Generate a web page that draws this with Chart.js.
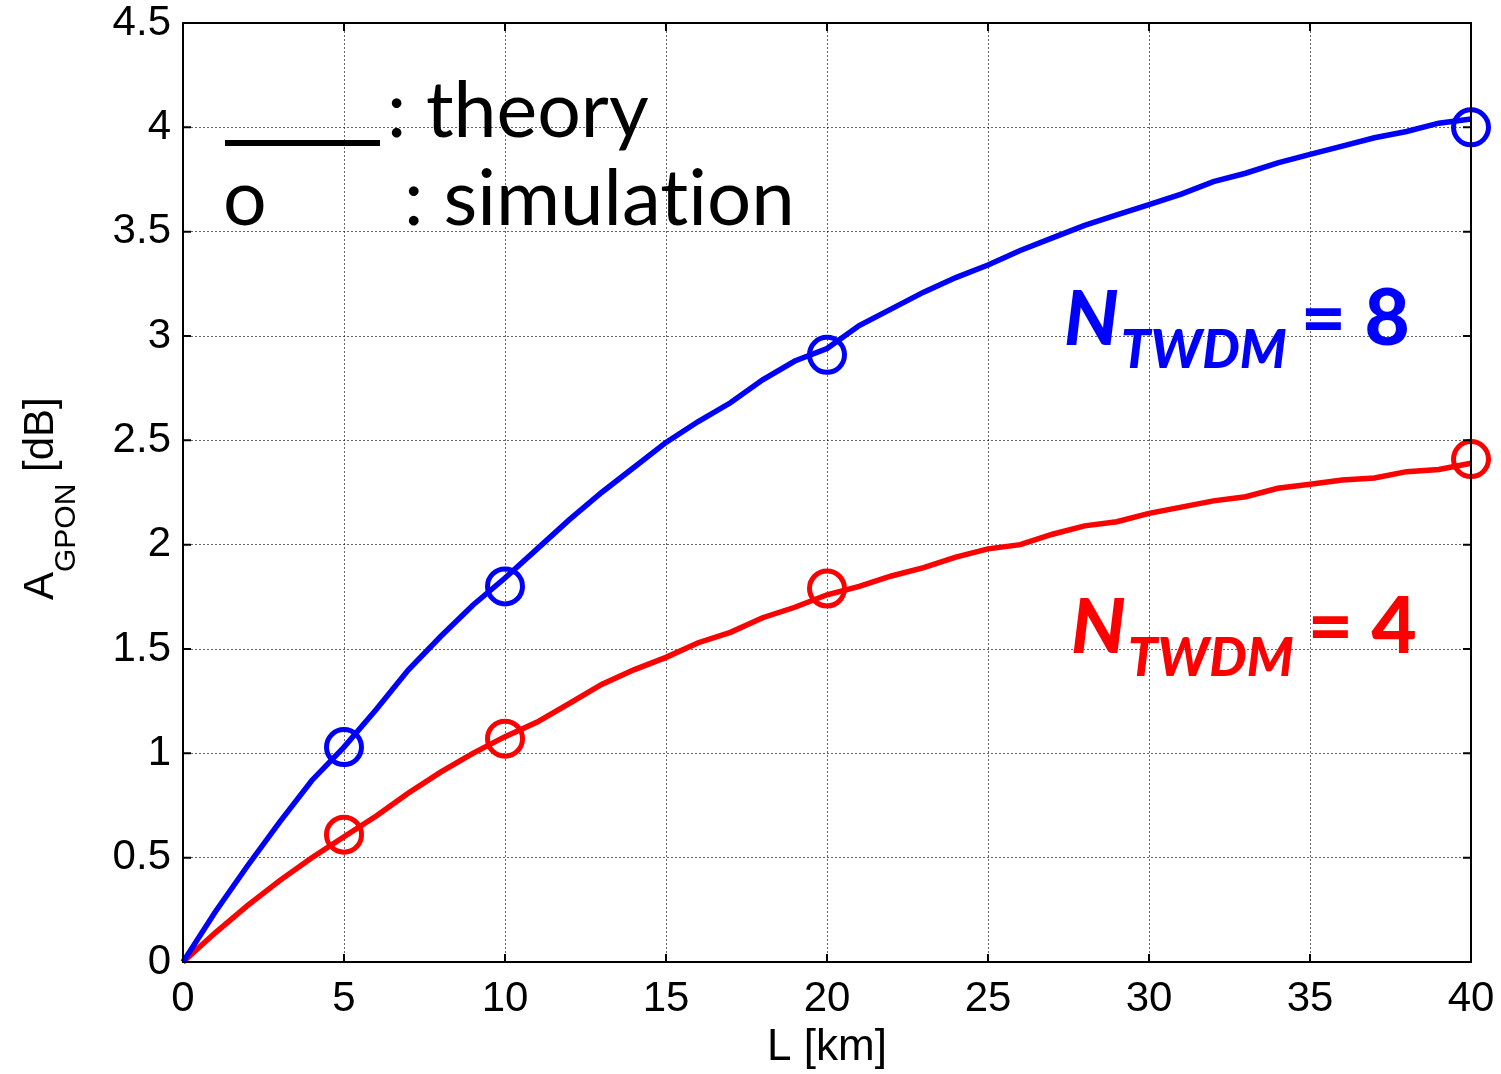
<!DOCTYPE html>
<html>
<head>
<meta charset="utf-8">
<script src="https://cdn.jsdelivr.net/npm/chart.js@4"></script>
<style>
html,body{margin:0;padding:0;background:#fff;}
#wrap{width:1501px;height:1074px;}
canvas{display:block;}
</style>
</head>
<body>
<div id="wrap"><canvas id="c" width="1501" height="1074" style="width:1501px;height:1074px"></canvas></div>
<script>
// ---- data ----
const distanceKm = [0,1,2,3,4,5,6,7,8,9,10,11,12,13,14,15,16,17,18,19,20,21,22,23,24,25,26,27,28,29,30,31,32,33,34,35,36,37,38,39,40];
const theoryN8 = [0,0.24,0.46,0.67,0.87,1.03,1.21,1.40,1.56,1.71,1.84,1.98,2.12,2.25,2.37,2.49,2.59,2.68,2.79,2.88,2.94,3.05,3.13,3.21,3.28,3.34,3.41,3.47,3.53,3.58,3.63,3.68,3.74,3.78,3.83,3.87,3.91,3.95,3.98,4.02,4.04];
const theoryN4 = [0,0.14,0.27,0.39,0.50,0.60,0.70,0.81,0.91,1.00,1.08,1.15,1.24,1.33,1.40,1.46,1.53,1.58,1.65,1.70,1.76,1.80,1.85,1.89,1.94,1.98,2.00,2.05,2.09,2.11,2.15,2.18,2.21,2.23,2.27,2.29,2.31,2.32,2.35,2.36,2.39];
const simKm = [5,10,20,40];
const simN8 = [1.03,1.80,2.91,4.00];
const simN4 = [0.61,1.07,1.79,2.41];
const xTickLabels = ['0','5','10','15','20','25','30','35','40'];
const yTickLabels = ['0','0.5','1','1.5','2','2.5','3','3.5','4','4.5'];

const toPts = (xs, ys) => xs.map((x, i) => ({x: x, y: ys[i]}));

const BLUE = '#0000ff', RED = '#ff0000';

const frameAndText = {
  id: 'frameAndText',
  afterDatasetsDraw(chart) {
    const ctx = chart.ctx, a = chart.chartArea;
    const xs = chart.scales.x, ys = chart.scales.y;
    ctx.save();
    // box
    ctx.strokeStyle = '#000';
    ctx.lineWidth = 2;
    ctx.strokeRect(a.left, a.top, a.right - a.left, a.bottom - a.top);
    // inward ticks
    const tl = 8;
    ctx.lineWidth = 2;
    ctx.beginPath();
    xs.ticks.forEach(t => {
      const px = xs.getPixelForValue(t.value);
      ctx.moveTo(px, a.bottom); ctx.lineTo(px, a.bottom - tl);
      ctx.moveTo(px, a.top); ctx.lineTo(px, a.top + tl);
    });
    ys.ticks.forEach(t => {
      const py = ys.getPixelForValue(t.value);
      ctx.moveTo(a.left, py); ctx.lineTo(a.left + tl, py);
      ctx.moveTo(a.right, py); ctx.lineTo(a.right - tl, py);
    });
    ctx.stroke();

    // legend-like text
    ctx.fillStyle = '#000';
    ctx.textBaseline = 'alphabetic';
    ctx.textAlign = 'left';
    ctx.fillRect(225, 140, 155, 6);
    ctx.font = '77px Lato';
    ctx.fillText(': theory', 387, 137);
    ctx.fillText('o', 223, 225);
    ctx.font = '78px Lato';
    ctx.fillText(': simulat\u200Cion', 404, 225);

    // N_TWDM labels
    function nLabel(color, x, y, val) {
      ctx.fillStyle = color;
      ctx.font = 'italic 900 76px Lato';
      ctx.fillText('N', x, y);
      let w = ctx.measureText('N').width;
      ctx.font = 'italic 900 53px Lato';
      ctx.fillText('TWDM', x + w + 2, y + 23);
      let w2 = ctx.measureText('TWDM').width;
      ctx.font = '900 78px Lato';
      ctx.fillText('= ' + val, x + w + 2 + w2 + 14, y);
    }
    nLabel(BLUE, 1064, 345, '8');
    nLabel(RED, 1071, 653, '4');

    // y-axis title with subscript
    ctx.save();
    ctx.translate(53, 600);
    ctx.rotate(-Math.PI / 2);
    ctx.fillStyle = '#000';
    ctx.font = '42px "Liberation Sans"';
    ctx.fillText('A', 0, 0);
    let wa = ctx.measureText('A').width;
    ctx.font = '30px "Liberation Sans"';
    ctx.fillText('GPON', wa, 22);
    let wg = ctx.measureText('GPON').width;
    ctx.font = '42px "Liberation Sans"';
    ctx.fillText(' [dB]', wa + wg, 0);
    ctx.restore();
    ctx.restore();
  }
};

new Chart(document.getElementById('c'), {
  type: 'scatter',
  data: {
    datasets: [
      { label: 'theory N=8', data: toPts(distanceKm, theoryN8), showLine: true, borderColor: BLUE, borderWidth: 5.5, pointRadius: 0, tension: 0, fill: false, clip: false },
      { label: 'theory N=4', data: toPts(distanceKm, theoryN4), showLine: true, borderColor: RED, borderWidth: 5.5, pointRadius: 0, tension: 0, fill: false, clip: false },
      { label: 'sim N=8', data: toPts(simKm, simN8), showLine: false, borderColor: BLUE, backgroundColor: 'rgba(0,0,0,0)', pointRadius: 17.5, pointBorderWidth: 5, borderWidth: 5, pointStyle: 'circle', clip: false },
      { label: 'sim N=4', data: toPts(simKm, simN4), showLine: false, borderColor: RED, backgroundColor: 'rgba(0,0,0,0)', pointRadius: 17.5, pointBorderWidth: 5, borderWidth: 5, pointStyle: 'circle', clip: false }
    ]
  },
  options: {
    responsive: false,
    animation: false,
    devicePixelRatio: 1,
    layout: { padding: { left: 0, right: 30, top: 23, bottom: 0 } },
    plugins: { legend: { display: false }, tooltip: { enabled: false } },
    scales: {
      x: {
        type: 'linear', min: 0, max: 40,
        afterFit: s => { s.height = 112; s.paddingLeft = 0; s.paddingRight = 0; },
        ticks: { stepSize: 5, padding: 12, color: '#000', font: { family: '"Liberation Sans"', size: 42 }, maxRotation: 0,
          callback: (v) => xTickLabels[Math.round(v / 5)] },
        grid: { color: 'rgba(0,0,0,0.6)', lineWidth: 1, drawTicks: false, tickLength: 0 },
        border: { display: false, dash: [2, 2] },
        title: { display: true, text: 'L [km]', color: '#000', font: { family: '"Liberation Sans"', size: 44 }, padding: { top: 0, bottom: 0 } }
      },
      y: {
        type: 'linear', min: 0, max: 4.5,
        afterFit: s => { s.width = 183; s.paddingTop = 0; s.paddingBottom = 0; },
        ticks: { stepSize: 0.5, padding: 12, color: '#000', font: { family: '"Liberation Sans"', size: 42 },
          callback: (v) => yTickLabels[Math.round(v / 0.5)] },
        grid: { color: 'rgba(0,0,0,0.6)', lineWidth: 1, drawTicks: false, tickLength: 0 },
        border: { display: false, dash: [2, 2] }
      }
    }
  },
  plugins: [frameAndText]
});
</script>
</body>
</html>
